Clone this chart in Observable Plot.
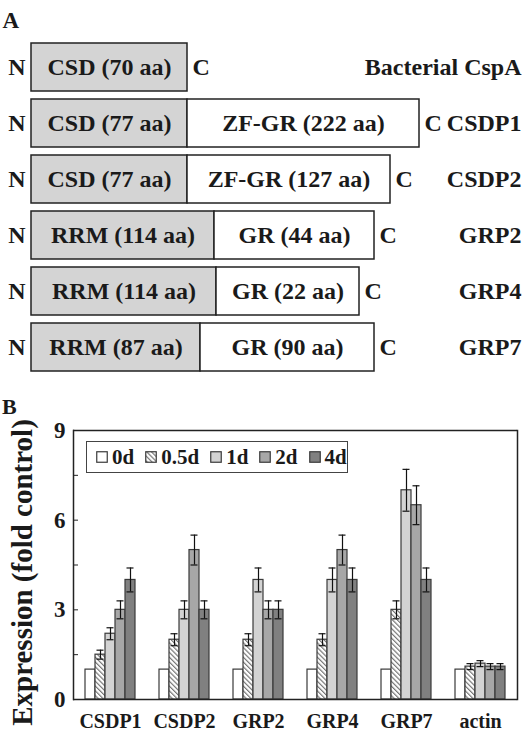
<!DOCTYPE html>
<html><head><meta charset="utf-8">
<script src="https://cdn.jsdelivr.net/npm/d3@7"></script>
<script src="https://cdn.jsdelivr.net/npm/@observablehq/plot@0.6"></script>
<style>
body{margin:0;background:#fff;}
#wrap{position:relative;width:526px;height:732px;overflow:hidden;font-family:"Liberation Serif","Times New Roman",serif;font-weight:bold;color:#1a1a1a;background:#fff}
#wrap svg{display:block}
#pA{position:absolute;left:0;top:0}
#pB{position:absolute;left:0;top:380px}
#labB{position:absolute;left:2px;top:396px;font-size:22px;line-height:22px}
#ytitle{position:absolute;font-size:29px;line-height:29px;width:340px;text-align:center;left:-148px;top:558px;transform:rotate(-90deg);white-space:nowrap}
#legend{position:absolute;left:86px;top:441px;width:262px;height:32px;box-sizing:border-box;border:1.5px solid #444;display:flex;align-items:center;padding-left:9px;font-size:21px;background:#fff}
.item{display:flex;align-items:center;margin-right:11px}
.item svg{margin-right:4px}
</style>
</head><body>
<svg width="0" height="0" style="position:absolute">
  <defs>
    <pattern id="hatch" patternUnits="userSpaceOnUse" width="3.4" height="3.4" patternTransform="rotate(-45)">
      <rect width="3.4" height="3.4" fill="#fff"></rect>
      <line x1="0.6" y1="0" x2="0.6" y2="3.4" stroke="#6a6a6a" stroke-width="1.1"></line>
    </pattern>
  </defs>
</svg>
<div id="wrap">
  <div id="pA"></div>
  <div id="pB"></div>
  <div id="labB">B</div>
  <div id="ytitle">Expression (fold control)</div>
  <div id="legend"></div>
</div>
<script>
// ---------- Panel A data ----------
const proteins = ["Bacterial CspA", "CSDP1", "CSDP2", "GRP2", "GRP4", "GRP7"];
const domain1Label = ["CSD (70 aa)", "CSD (77 aa)", "CSD (77 aa)", "RRM (114 aa)", "RRM (114 aa)", "RRM (87 aa)"];
const domain1Length = [156, 156, 156, 183, 185, 169];
const domain2Label = [null, "ZF-GR (222 aa)", "ZF-GR (127 aa)", "GR (44 aa)", "GR (22 aa)", "GR (90 aa)"];
const domain2Length = [0, 232, 203, 160, 143, 174];

// ---------- Panel B data ----------
const genes = ["CSDP1", "CSDP2", "GRP2", "GRP4", "GRP7", "actin"];
const times = ["0d", "0.5d", "1d", "2d", "4d"];
const val0d  = [1, 1, 1, 1, 1, 1];
const val05d = [1.5, 2, 2, 2, 3, 1.1];
const val1d  = [2.2, 3, 4, 4, 7, 1.2];
const val2d  = [3, 5, 3, 5, 6.5, 1.1];
const val4d  = [4, 3, 3, 4, 4, 1.1];
const err0d  = [0, 0, 0, 0, 0, 0];
const err05d = [0.15, 0.2, 0.2, 0.2, 0.3, 0.1];
const err1d  = [0.2, 0.3, 0.4, 0.4, 0.7, 0.1];
const err2d  = [0.3, 0.5, 0.3, 0.5, 0.65, 0.1];
const err4d  = [0.4, 0.3, 0.3, 0.4, 0.4, 0.1];
const yTicksMajor = [0, 3, 6, 9];
const yTicksAll = [0, 1.5, 3, 4.5, 6, 7.5, 9];

// ---------- styles ----------
const fontFam = "'Liberation Serif','Times New Roman',serif";
const ink = "#1a1a1a";
const fills = ["#ffffff", "url(#hatch)", "#d3d3d3", "#a7a7a7", "#808080"];

// ---------- Panel A ----------
const rows = proteins.map((p, i) => ({
  protein: p,
  l1: domain1Label[i], e1: domain1Length[i],
  l2: domain2Label[i], e2: domain1Length[i] + domain2Length[i]
}));
const rows2 = rows.filter(r => r.l2);

const plotA = Plot.plot({
  width: 526, height: 380,
  marginTop: 0, marginBottom: 0, marginLeft: 0, marginRight: 0,
  style: {fontFamily: fontFam, fontWeight: "bold", fontSize: "24px", color: ink, background: "#fff"},
  x: {domain: [-31, 495], range: [0, 526], axis: null},
  y: {domain: proteins, range: [33.7, 379.3], padding: 0.15, axis: null},
  marks: [
    Plot.barX(rows, {y: "protein", x1: 0, x2: "e1", fill: "#d4d4d4", stroke: "#222", strokeWidth: 1.5}),
    Plot.barX(rows2, {y: "protein", x1: "e1", x2: "e2", fill: "#fff", stroke: "#222", strokeWidth: 1.5}),
    Plot.text(rows, {y: "protein", x: d => d.e1 / 2, text: "l1", fill: ink}),
    Plot.text(rows2, {y: "protein", x: d => (d.e1 + d.e2) / 2, text: "l2", fill: ink}),
    Plot.text(rows, {y: "protein", x: 0, text: () => "N", textAnchor: "end", dx: -6, fill: ink}),
    Plot.text(rows, {y: "protein", x: d => Math.max(d.e1, d.e2), text: () => "C", textAnchor: "start", dx: 5, fill: ink}),
    Plot.text(rows, {y: "protein", frameAnchor: "right", text: "protein", textAnchor: "end", dx: -5, fill: ink}),
    Plot.text(["A"], {frameAnchor: "top-left", text: d => d, textAnchor: "start", lineAnchor: "bottom", dx: 2, dy: 27, fontSize: 23, fill: ink})
  ]
});
document.getElementById("pA").appendChild(plotA);

// ---------- Panel B ----------
const valsBy = [val0d, val05d, val1d, val2d, val4d];
const errsBy = [err0d, err05d, err1d, err2d, err4d];
const data = genes.flatMap((g, i) => times.map((t, j) => ({gene: g, time: t, value: valsBy[j][i], err: errsBy[j][i]})));
const errData = data.filter(d => d.err > 0);

const plotB = Plot.plot({
  width: 526, height: 352,
  marginTop: 50, marginBottom: 33, marginLeft: 73, marginRight: 9,
  style: {fontFamily: fontFam, fontWeight: "bold", fontSize: "20px", color: ink, background: "#fff"},
  fx: {domain: genes, padding: 0, label: null},
  x: {domain: times, paddingInner: 0, paddingOuter: 0.93, axis: null},
  y: {domain: [0, 9], label: null},
  color: {domain: times, range: fills},
  marks: [
    Plot.barY(data, {fx: "gene", x: "time", y: "value", fill: "time", stroke: "#3a3a3a", strokeWidth: 1.2}),
    Plot.ruleX(errData, {fx: "gene", x: "time", y1: d => d.value - d.err, y2: d => d.value + d.err, stroke: "#111", strokeWidth: 1.2}),
    Plot.tickY(errData, {fx: "gene", x: "time", y: d => d.value + d.err, insetLeft: 1.5, insetRight: 1.5, stroke: "#111", strokeWidth: 1.2}),
    Plot.tickY(errData, {fx: "gene", x: "time", y: d => d.value - d.err, insetLeft: 1.5, insetRight: 1.5, stroke: "#111", strokeWidth: 1.2}),
    Plot.ruleY([0, 9], {stroke: "#222", strokeWidth: 1.5}),
    Plot.frame({anchor: "left", facetAnchor: "left", stroke: "#222", strokeWidth: 1.5}),
    Plot.frame({anchor: "right", facetAnchor: "right", stroke: "#222", strokeWidth: 1.5}),
    Plot.axisY({ticks: yTicksMajor, tickSize: 0, tickPadding: 8, fontSize: 23, label: null, fill: ink}),
    Plot.axisY({ticks: yTicksAll, tickSize: -5, tickFormat: () => "", label: null, stroke: "#222"}),
    Plot.axisFx({anchor: "bottom", tickSize: 0, tickPadding: 14, fontSize: 20, label: null, fill: ink})
  ]
});
document.getElementById("pB").appendChild(plotB);

// ---------- Legend ----------
const legend = d3.select("#legend");
times.forEach((t, j) => {
  const item = legend.append("div").attr("class", "item");
  const s = item.append("svg").attr("width", 12).attr("height", 12);
  s.append("rect").attr("x", 0.75).attr("y", 0.75).attr("width", 10.5).attr("height", 10.5)
    .attr("fill", fills[j]).attr("stroke", "#3a3a3a").attr("stroke-width", 1.2);
  item.append("span").text(t);
});
</script>
</body></html>
